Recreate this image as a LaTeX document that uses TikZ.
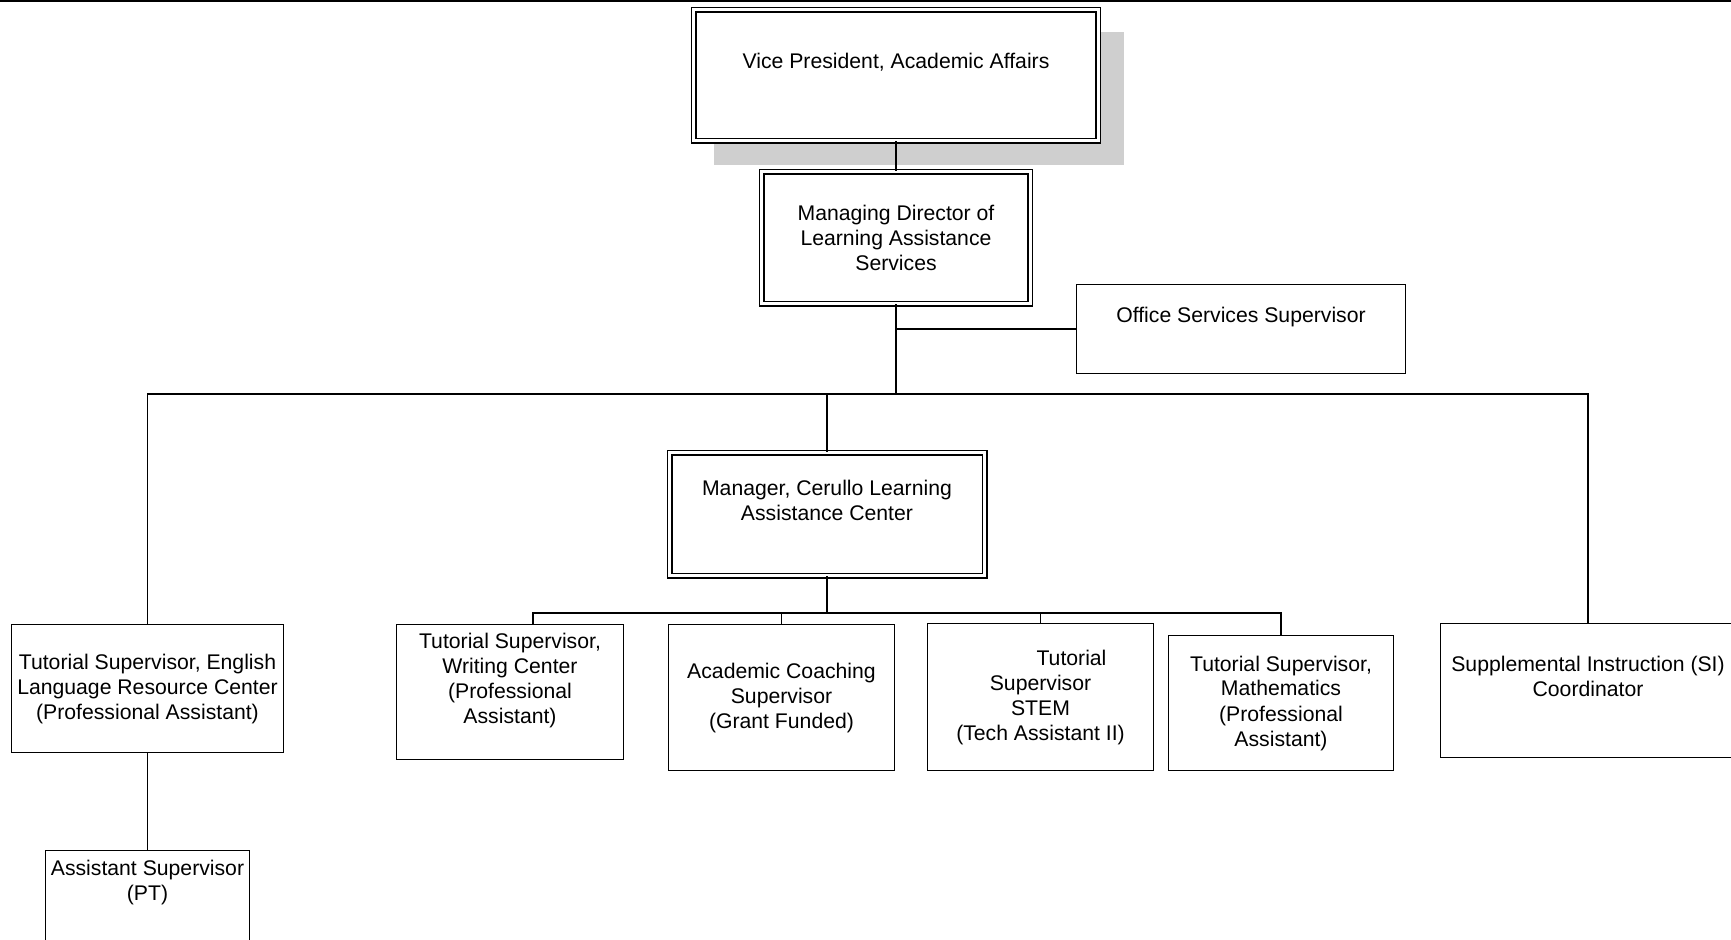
\documentclass[tikz,border=0pt]{standalone}
\usepackage{fontspec}
\setmainfont{Liberation Sans}
\usetikzlibrary{shadows}

\begin{document}
\begin{tikzpicture}[
    x=0.5pt, y=-0.5pt,
    % Position box (single border)
    posbox/.style={
        rectangle,
        draw=black,
        line width=0.75pt,
        fill=white,
        inner sep=1pt,
        align=center,
        font=\fontsize{10.6pt}{12.5pt}\selectfont
    },
    % Head box (double border)
    headbox/.style={
        posbox,
        double=white,
        double distance=1.6pt,
        line width=0.7pt
    },
    % Text sitting above the middle of its box
    lifted/.style={text depth=14pt},
    % Connector
    conn/.style={
        draw=black,
        line width=0.7pt
    }
]
\useasboundingbox (0,0) rectangle (1731,939);

% === Page rule ===
\draw[line width=0.75pt] (0,0.75) -- (1731,0.75);

% === Top levels ===
\node[headbox, lifted, minimum width=202.25pt, minimum height=65.5pt,
      drop shadow={shadow xshift=11.25pt, shadow yshift=-11.4pt,
                   shadow scale=1.015, fill=black!19, opacity=1}]
    (vp) at (896,75) {Vice President, Academic Affairs};
\node[headbox, minimum width=134.25pt, minimum height=66pt]
    (md) at (896,237.5) {Managing Director of\\Learning Assistance\\Services};
\node[posbox, lifted, minimum width=164.5pt, minimum height=44.5pt]
    (office) at (1241,329) {Office Services Supervisor};

% === Middle level ===
\node[headbox, lifted, minimum width=157.5pt, minimum height=61.5pt]
    (mgr) at (827,514) {Manager, Cerullo Learning\\Assistance Center};
\node[posbox, minimum width=136pt, minimum height=64pt]
    (english) at (147.5,688.5) {Tutorial Supervisor, English\\Language Resource Center\\(Professional Assistant)};
\node[posbox, lifted, minimum width=147.5pt, minimum height=67pt]
    (si) at (1588,690.5) {Supplemental Instruction (SI)\\Coordinator};

% === Center staff ===
\node[posbox, lifted, minimum width=113.5pt, minimum height=67.5pt]
    (writing) at (510,692) {Tutorial Supervisor,\\Writing Center\\(Professional\\Assistant)};
\node[posbox, minimum width=113pt, minimum height=73pt]
    (academic) at (781.5,697.5) {Academic Coaching\\Supervisor\\(Grant Funded)};
\node[posbox, minimum width=113pt, minimum height=73.5pt]
    (stem) at (1040.5,697) {\hspace*{31pt}Tutorial\\Supervisor\\STEM\\(Tech Assistant II)};
\node[posbox, minimum width=112.5pt, minimum height=67.5pt]
    (math) at (1281,703) {Tutorial Supervisor,\\Mathematics\\(Professional\\Assistant)};

% === Bottom level ===
\node[posbox, text depth=33.7pt, minimum width=102pt, minimum height=64pt]
    (assist) at (147.5,914.5) {Assistant Supervisor\\(PT)};

% === Connectors ===
\coordinate (hub) at (896,394);
\coordinate (hub2) at (827,613);

\draw[conn] (vp) -- (md);
\draw[conn] (md) -- (hub);
\draw[conn] (md.south |- office.west) -- (office.west);
\draw[conn] (english.north) |- (hub) -| (si.north);
\draw[conn] (hub -| mgr.north) -- (mgr.north);

\draw[conn] (mgr) -- (hub2);
\draw[conn] ([xshift=11.5pt]writing.north) |- (hub2) -| (math.north);
\draw[conn] (hub2 -| academic.north) -- (academic.north);
\draw[conn] (hub2 -| stem.north) -- (stem.north);

\draw[conn] (english) -- (assist);

\end{tikzpicture}
\end{document}
